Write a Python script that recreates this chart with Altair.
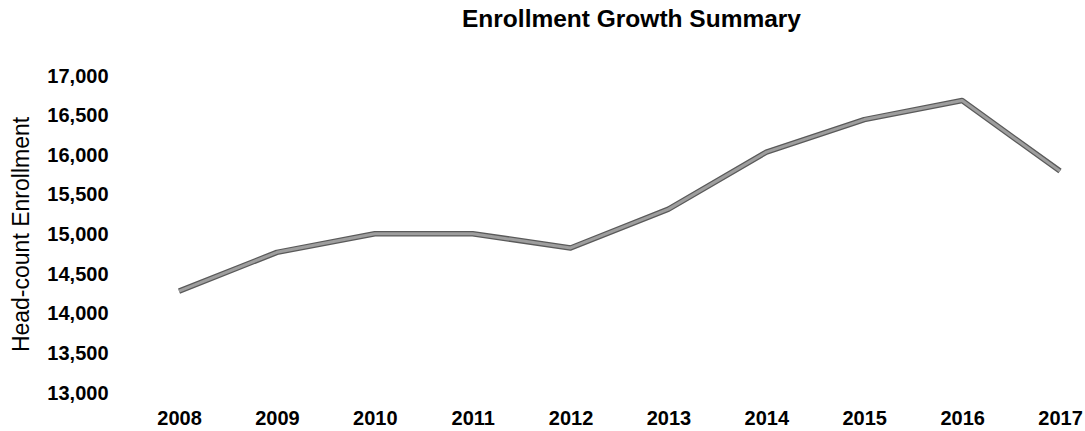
import altair as alt
import pandas as pd

years = [2008, 2009, 2010, 2011, 2012, 2013, 2014, 2015, 2016, 2017]
enrollment = [14285, 14775, 15010, 15010, 14830, 15320, 16040, 16450, 16690, 15800]
y_ticks = [13000, 13500, 14000, 14500, 15000, 15500, 16000, 16500, 17000]

df = pd.DataFrame({"year": years, "enrollment": enrollment})

FONT = "Liberation Sans"

x_enc = alt.X(
    "year:Q",
    scale=alt.Scale(domain=[2007.397, 2017.153], nice=False, zero=False),
    axis=alt.Axis(
        values=years, format="d", title=None, grid=False, ticks=False, domain=False,
        labelFont=FONT, labelFontSize=20, labelFontWeight="bold", labelColor="#000000",
        labelPadding=15, labelBaseline="top",
    ),
)
y_enc = alt.Y(
    "enrollment:Q",
    scale=alt.Scale(domain=[13000, 17000], nice=False, zero=False),
    axis=alt.Axis(
        values=y_ticks, format=",d", title="Head-count Enrollment", grid=False, ticks=False,
        domain=False, labelFont=FONT, labelFontSize=20, labelFontWeight="bold",
        labelColor="#000000", labelPadding=12,
        titleFont=FONT, titleFontSize=23, titleFontWeight="normal", titleColor="#000000",
        titleX=-99, titleY=158, titleBaseline="middle", titleAlign="center", titleAngle=270,
    ),
)

base = alt.Chart(df)
outer = base.mark_line(color="#5a5a5a", strokeWidth=5.5, strokeJoin="round").encode(x=x_enc, y=y_enc)
inner = base.mark_line(color="#9e9e9e", strokeWidth=3, strokeJoin="round").encode(x=x_enc, y=y_enc)

chart = (
    alt.layer(outer, inner)
    .properties(
        width=955,
        height=317,
        title=alt.TitleParams(
            "Enrollment Growth Summary", font=FONT, fontSize=24.5, fontWeight="bold",
            color="#000000", anchor="middle", dx=34, offset=34,
        ),
        autosize=alt.AutoSizeParams(type="none"),
        padding={"left": 120, "top": 76, "right": 10, "bottom": 38},
        background="white",
    )
    .configure_view(stroke=None)
)

chart.save("out.html", embed_options={"renderer": "svg", "actions": False})
